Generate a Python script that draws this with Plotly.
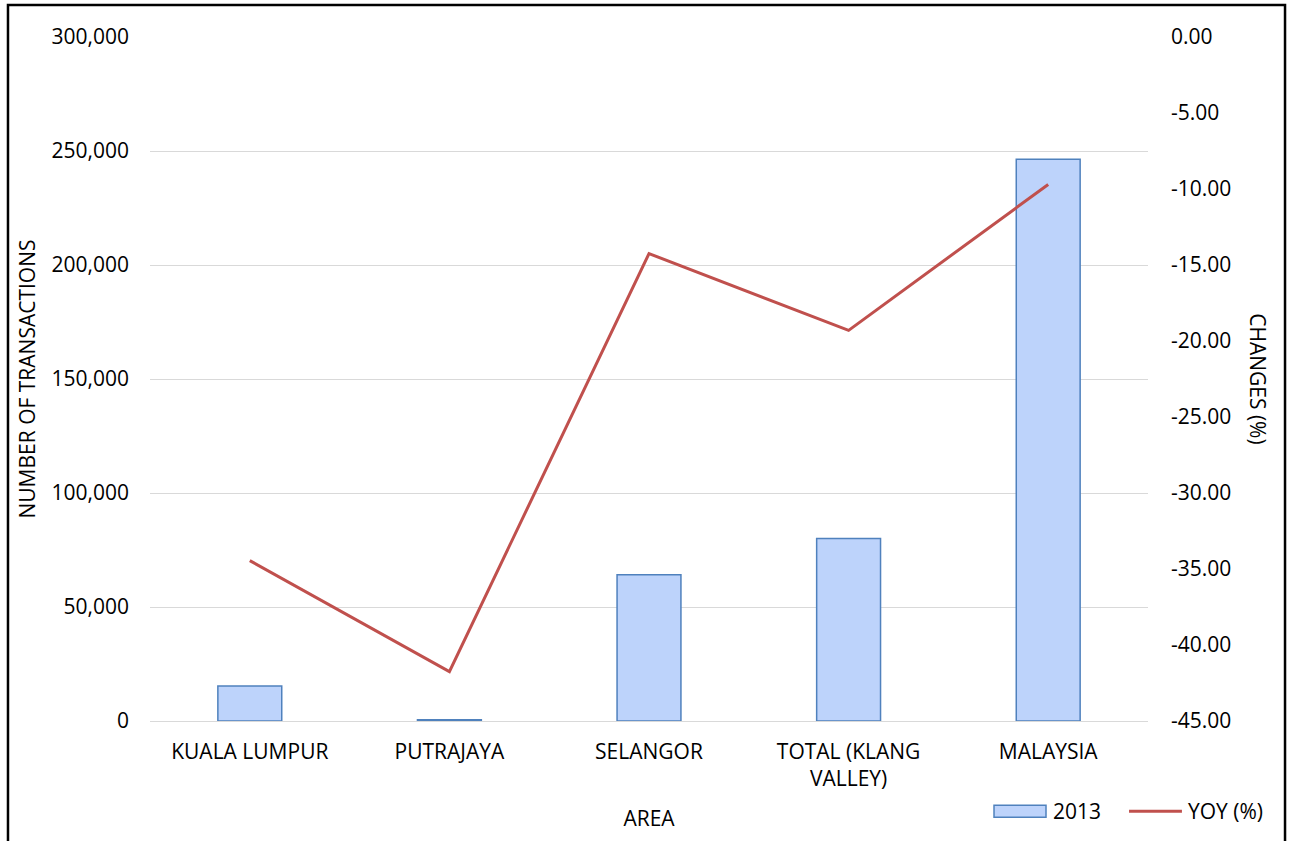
import plotly.graph_objects as go

categories = ["KUALA LUMPUR", "PUTRAJAYA", "SELANGOR", "TOTAL (KLANG<br>VALLEY)", "MALAYSIA"]
transactions_2013 = [15400, 500, 64100, 80000, 246400]
yoy_pct = [-34.45, -41.75, -14.25, -19.3, -9.7]
left_ticks = [0, 50000, 100000, 150000, 200000, 250000, 300000]
right_ticks = [-45, -40, -35, -30, -25, -20, -15, -10, -5, 0]
right_ticktext = [f"{v:.2f}" for v in right_ticks]

FONT = "Open Sans"
FS = 21
BAR_FILL = "#bdd3fb"
BAR_LINE = "#4f81bd"
LINE_COLOR = "#c0504d"

fig = go.Figure()
fig.add_trace(go.Bar(
    x=categories, y=transactions_2013, name="2013",
    marker=dict(color=BAR_FILL, line=dict(color=BAR_LINE, width=1.5)),
    yaxis="y",
))
fig.add_trace(go.Scatter(
    x=categories, y=yoy_pct, name="YOY (%)", mode="lines",
    line=dict(color=LINE_COLOR, width=3),
    yaxis="y2",
))

leg_y = -0.1318
fig.update_layout(
    width=1292, height=841,
    margin=dict(l=150, r=144, t=37, b=120),
    paper_bgcolor="white", plot_bgcolor="white",
    font=dict(family=FONT, size=FS, color="#000000"),
    bargap=0.68,
    showlegend=False,
    xaxis=dict(showgrid=False, showline=False, ticks="", ticklabelstandoff=16,
               tickfont=dict(size=FS),
               title=dict(text="AREA", font=dict(size=FS), standoff=20)),
    yaxis=dict(range=[0, 300000], tickvals=left_ticks, tickformat=",",
               showgrid=True, gridcolor="#d9d9d9", gridwidth=1,
               zeroline=True, zerolinecolor="#d9d9d9", zerolinewidth=1,
               showline=False, ticks="", ticklabelstandoff=20,
               title=dict(text="NUMBER OF TRANSACTIONS", font=dict(size=FS), standoff=10)),
    yaxis2=dict(range=[-45, 0], tickvals=right_ticks, ticktext=right_ticktext,
                overlaying="y", side="right", showgrid=False, zeroline=False,
                showline=False, ticks="", ticklabelstandoff=22),
    annotations=[
        dict(text="CHANGES (%)", textangle=90, xref="paper", yref="paper",
             x=1.110, y=0.5, xanchor="center", yanchor="middle",
             showarrow=False, font=dict(size=FS)),
        dict(text="2013", xref="paper", yref="paper", x=0.9028, y=leg_y,
             xanchor="left", yanchor="middle", showarrow=False, font=dict(size=FS)),
        dict(text="YOY (%)", xref="paper", yref="paper", x=1.038, y=leg_y,
             xanchor="left", yanchor="middle", showarrow=False, font=dict(size=FS)),
    ],
    shapes=[
        dict(type="rect", xref="paper", yref="paper",
             x0=-0.1423, x1=1.1373, y0=-0.19, y1=1.0469,
             line=dict(color="black", width=2.5), fillcolor="rgba(0,0,0,0)"),
        dict(type="rect", xref="paper", yref="paper",
             x0=0.8457, x1=0.8978, y0=-0.1406, y1=-0.1230,
             line=dict(color=BAR_LINE, width=1.5), fillcolor=BAR_FILL),
        dict(type="line", xref="paper", yref="paper",
             x0=0.981, x1=1.034, y0=leg_y, y1=leg_y,
             line=dict(color=LINE_COLOR, width=3)),
    ],
)

fig.write_html("out.html", config={"displayModeBar": False},
               post_script="document.body.style.margin='0';document.body.style.overflow='hidden';")
